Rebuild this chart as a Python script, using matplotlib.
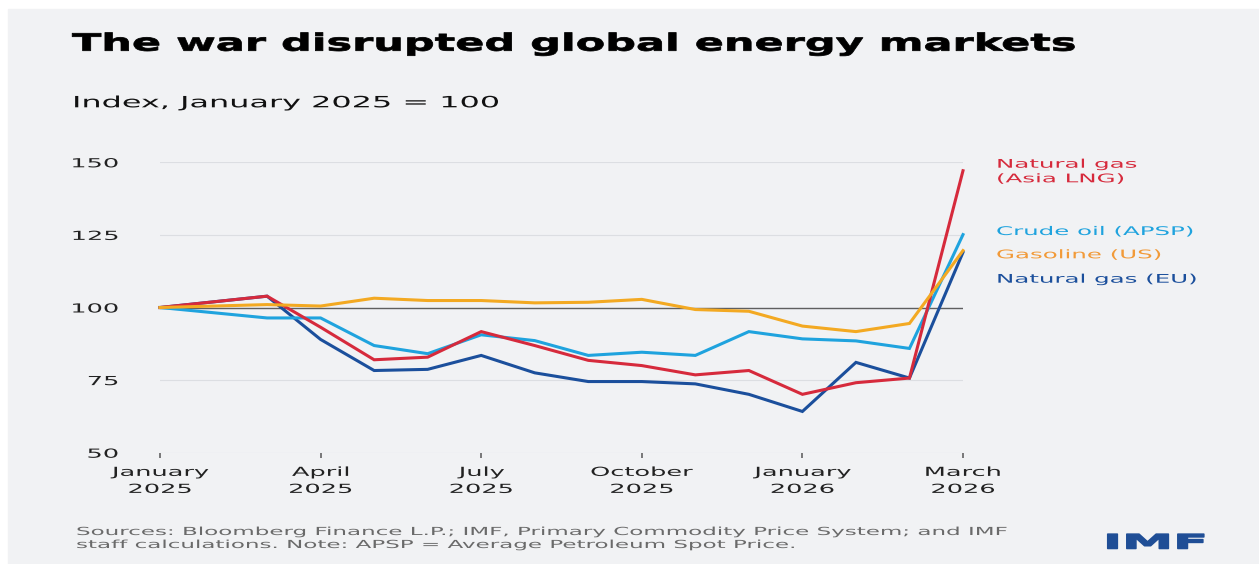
import matplotlib

matplotlib.use("Agg")

import matplotlib.pyplot as plt  # noqa: E402
from matplotlib import patheffects  # noqa: E402
from matplotlib.patches import Rectangle  # noqa: E402
from matplotlib.transforms import Affine2D  # noqa: E402

# Monthly index values, January 2025 = 100 (February 2025 not reported)
period_pos = [0, 2, 3, 4, 5, 6, 7, 8, 9, 10, 11, 12, 13, 14, 15]
asia_lng = [100, 103.9, 93.2, 82.0, 82.9, 91.7, 86.9, 81.8, 80.0, 76.8, 78.3, 70.1, 74.1, 75.7, 147.1]
eu_gas = [100, 103.9, 89.0, 78.3, 78.7, 83.5, 77.5, 74.5, 74.5, 73.7, 70.1, 64.2, 81.1, 75.7, 119.0]
crude_apsp = [100, 96.4, 96.4, 86.9, 84.1, 90.6, 88.6, 83.5, 84.6, 83.5, 91.7, 89.2, 88.5, 85.9, 125.1]
gasoline_us = [100, 101.0, 100.5, 103.2, 102.4, 102.4, 101.6, 101.8, 102.8, 99.3, 98.7, 93.6, 91.7, 94.5, 119.6]

tick_pos = [0, 3, 6, 9, 12, 15]
tick_labels = ["January\n2025", "April\n2025", "July\n2025", "October\n2025", "January\n2026", "March\n2026"]
y_ticks = [50, 75, 100, 125, 150]

BG = "#f1f2f4"
GRID = "#dcdee2"
RED = "#d62a3c"
LIGHT_BLUE = "#1fa3de"
ORANGE = "#f3a922"
DARK_BLUE = "#1b4f9c"

W, H = 1259, 564


class Widen(patheffects.AbstractPathEffect):
    """Stretch glyph outlines sideways around the text anchor, optionally thickened."""

    def __init__(self, factor, anchor="left", stroke=0.0):
        super().__init__()
        self.factor = factor
        self.anchor = anchor
        self.stroke = stroke

    def draw_path(self, renderer, gc, tpath, affine, rgbFace=None):
        box = tpath.get_extents()
        x0 = {"left": 0.0, "center": (box.x0 + box.x1) / 2, "right": box.x1}[self.anchor]
        widen = Affine2D().translate(-x0, 0).scale(self.factor, 1).translate(x0, 0)
        gc0 = renderer.new_gc()
        gc0.copy_properties(gc)
        if self.stroke:
            gc0.set_linewidth(renderer.points_to_pixels(self.stroke))
            gc0.set_foreground(rgbFace)
            gc0.set_joinstyle("round")
        renderer.draw_path(gc0, tpath, widen + affine, rgbFace)
        gc0.restore()


def fx(px):
    return px / W


def fy(py):
    return 1 - py / H


def label(x, y, text, size, color="#111111", factor=2.05, stroke=0.0, **kw):
    t = fig.text(fx(x), fy(y), text, fontsize=size, color=color, va="baseline", **kw)
    t.set_path_effects([Widen(factor, kw.get("ha", "left"), stroke)])
    return t


plt.rcParams["font.family"] = ["DejaVu Sans"]
fig = plt.figure(figsize=(W / 100, H / 100), dpi=100, facecolor="white")
fig.add_artist(Rectangle((fx(8), 0), 1, fy(9), transform=fig.transFigure, color=BG, zorder=-10))

ax = fig.add_axes([fx(160), fy(452.7), fx(963) - fx(160), fy(162.3) - fy(452.7)])
ax.set_facecolor("none")
ax.set_axisbelow(True)
for spine in ax.spines.values():
    spine.set_visible(False)

ax.set_xlim(0, 15)
ax.set_ylim(50, 150)
ax.set_yticks(y_ticks)
ax.grid(axis="y", color=GRID, lw=0.8)
ax.axhline(100, color="#5f5f5f", lw=1.0, zorder=2)

ax.set_xticks(tick_pos, tick_labels)
ax.tick_params(axis="x", length=3.5, width=1.3, color="#6e6e6e", pad=6, labelsize=9, labelcolor="#222222")
ax.tick_params(axis="y", length=0, pad=30, labelsize=9, labelcolor="#222222")
for t in ax.get_xticklabels():
    t.set_linespacing(1.4)
    t.set_path_effects([Widen(2.05, "center")])
for t in ax.get_yticklabels():
    t.set_path_effects([Widen(2.05, "right")])

for values, color in [(eu_gas, DARK_BLUE), (crude_apsp, LIGHT_BLUE), (asia_lng, RED), (gasoline_us, ORANGE)]:
    ax.plot(period_pos, values, color=color, lw=2.2, solid_joinstyle="miter", clip_on=False, zorder=3)

# series names to the right of the last observation
label(996, 167.7, "Natural gas", 8.6, RED)
label(996, 182.3, "(Asia LNG)", 8.6, RED)
label(996, 235, "Crude oil (APSP)", 8.6, LIGHT_BLUE)
label(996, 258.3, "Gasoline (US)", 8.6, "#f29a38")
label(996, 282.7, "Natural gas (EU)", 8.6, DARK_BLUE)

label(72, 50.7, "The war disrupted global energy markets", 17.2, "#000000", 1.8, 0.4, fontweight="bold")
label(72, 107.3, "Index, January 2025 = 100", 11.2, "#111111")
label(76, 535, "Sources: Bloomberg Finance L.P.; IMF, Primary Commodity Price System; and IMF", 8, "#6a6a6a", 2.07)
label(76, 548, "staff calculations. Note: APSP = Average Petroleum Spot Price.", 8, "#6a6a6a", 2.07)
label(1103, 548.5, "IMF", 14.2, "#1f4e96", 2.6, 0.8, fontweight="bold")

fig.savefig("out.png", dpi=100, facecolor="white")
